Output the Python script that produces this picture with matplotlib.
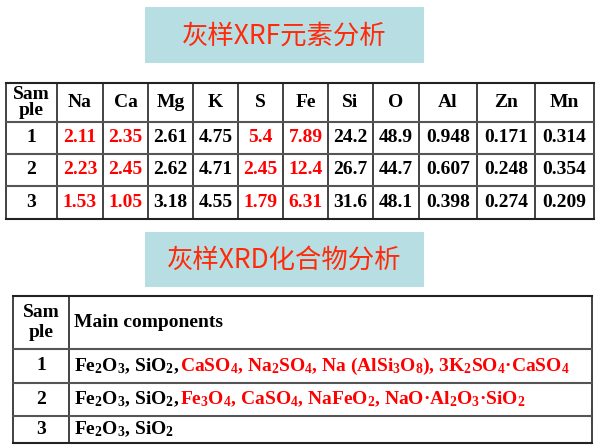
import matplotlib
matplotlib.use('Agg')
import matplotlib.pyplot as plt
from matplotlib.patches import Rectangle

plt.rcParams['mathtext.fontset'] = 'custom'
plt.rcParams['mathtext.rm'] = 'Liberation Serif:bold'
plt.rcParams['mathtext.it'] = 'Liberation Serif:bold'
plt.rcParams['mathtext.bf'] = 'Liberation Serif:bold'

RED = '#ff0000'
BLK = '#000000'

# XRF table
xrf_cols = ['Na', 'Ca', 'Mg', 'K', 'S', 'Fe', 'Si', 'O', 'Al', 'Zn', 'Mn']
xrf_red = ['Na', 'Ca', 'S', 'Fe']
samples = ['1', '2', '3']
xrf_vals = [
    ['2.11', '2.35', '2.61', '4.75', '5.4', '7.89', '24.2', '48.9', '0.948', '0.171', '0.314'],
    ['2.23', '2.45', '2.62', '4.71', '2.45', '12.4', '26.7', '44.7', '0.607', '0.248', '0.354'],
    ['1.53', '1.05', '3.18', '4.55', '1.79', '6.31', '31.6', '48.1', '0.398', '0.274', '0.209'],
]

# XRD table: (text, red?) segments
xrd_rows = [
    [('Fe$_2$O$_3$, SiO$_2$, ', False),
     ('CaSO$_4$, Na$_2$SO$_4$, Na (AlSi$_3$O$_8$), 3K$_2$SO$_4$·CaSO$_4$', True)],
    [('Fe$_2$O$_3$, SiO$_2$, ', False),
     ('Fe$_3$O$_4$, CaSO$_4$, NaFeO$_2$, NaO·Al$_2$O$_3$·SiO$_2$', True)],
    [('Fe$_2$O$_3$, SiO$_2$', False)],
]

fig = plt.figure(figsize=(5.97, 4.45), dpi=100)
ax = fig.add_axes([0, 0, 1, 1])
ax.set_xlim(0, 597)
ax.set_ylim(445, 0)
ax.axis('off')

serif = dict(family='Liberation Serif', fontweight='bold', fontsize=14)

# titles
for (y0, y1, title) in [(7, 63, '灰样XRF元素分析'), (232, 287, '灰样XRD化合物分析')]:
    ax.add_patch(Rectangle((145, y0), 279, y1 - y0, facecolor='#b7dfe3', edgecolor='none'))
    ax.text(284.5, (y0 + y1) / 2 + 1, title, ha='center', va='center', color='#ff2a0a',
            fontsize=19, fontweight='light', family=['Noto Sans CJK SC', 'DejaVu Sans'])

# XRF table grid
xs = [6, 57, 103, 148, 193, 238, 283, 328, 373, 419, 477, 535, 594]
ys = [83, 122, 154, 186, 219]
for x in xs:
    ax.plot([x, x], [ys[0], ys[-1]], color='#222222', lw=1.2)
for i, y in enumerate(ys):
    ax.plot([xs[0], xs[-1]], [y, y], color='#222222' if i in (0, len(ys) - 1) else '#555555', lw=1.5)

def cx(i):
    return (xs[i] + xs[i + 1]) / 2

def cy(j):
    return (ys[j] + ys[j + 1]) / 2

ax.text(cx(0), cy(0), 'Sam\nple', ha='center', va='center', linespacing=0.95, **serif)
for i, c in enumerate(xrf_cols):
    ax.text(cx(i + 1), cy(0), c, ha='center', va='center', **serif)
for j, s in enumerate(samples):
    ax.text(cx(0), cy(j + 1), s, ha='center', va='center', **serif)
    for i, v in enumerate(xrf_vals[j]):
        col = RED if xrf_cols[i] in xrf_red else BLK
        ax.text(cx(i + 1), cy(j + 1), v, ha='center', va='center', color=col, **serif)

# XRD table grid
x2 = [13, 69, 592]
y2 = [296, 349, 383, 416, 443]
for x in x2:
    ax.plot([x, x], [y2[0], y2[-1]], color='#222222', lw=1.2)
for i, y in enumerate(y2):
    ax.plot([x2[0], x2[-1]], [y, y], color='#222222' if i in (0, len(y2) - 1) else '#555555', lw=1.5)

ax.text((x2[0] + x2[1]) / 2, (y2[0] + y2[1]) / 2, 'Sam\nple', ha='center', va='center',
        linespacing=1.3, **serif)
ax.text(74, (y2[0] + y2[1]) / 2, 'Main components', ha='left', va='center', **serif)

fig.canvas.draw()
renderer = fig.canvas.get_renderer()
inv = ax.transData.inverted()
for j, s in enumerate(samples):
    yc = (y2[j + 1] + y2[j + 2]) / 2
    ax.text((x2[0] + x2[1]) / 2, yc, s, ha='center', va='center', **serif)
    x = 74
    for txt, red in xrd_rows[j]:
        t = ax.text(x, yc + 5, txt, ha='left', va='baseline', color=RED if red else BLK, **serif)
        bb = t.get_window_extent(renderer)
        x = inv.transform((bb.x1, bb.y0))[0]

fig.savefig('out.png', dpi=100)
